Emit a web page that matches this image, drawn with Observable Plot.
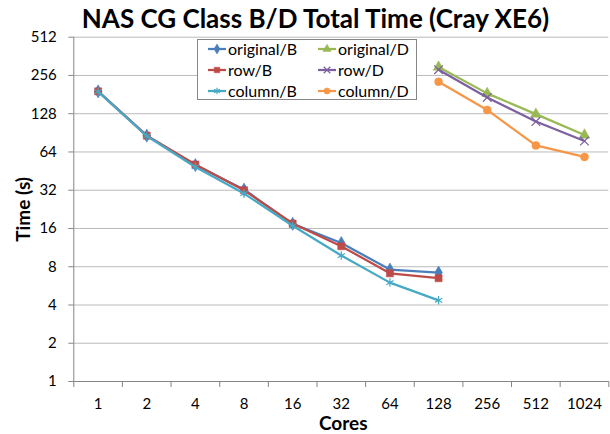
<!DOCTYPE html>
<html>
<head>
<meta charset="utf-8">
<script src="https://cdn.jsdelivr.net/npm/d3@7"></script>
<script src="https://cdn.jsdelivr.net/npm/@observablehq/plot@0.6"></script>
<style>
  html, body { margin: 0; padding: 0; background: #fff; }
  #wrap { position: relative; width: 610px; height: 434px; font-family: Lato, "Open Sans", sans-serif; }
  #title { position: absolute; left: 0; width: 631px; top: 2px; text-align: center; font: bold 26px Lato, sans-serif; color: #000; white-space: nowrap; }
  #legend { position: absolute; left: 197px; top: 39px; width: 220px; height: 61px; border: 1px solid #868686; background: #fff; box-sizing: border-box; overflow: hidden; }
  #legend .grid { position: relative; top: -2px; display: grid; grid-template-columns: 110px 108px; grid-template-rows: repeat(3, 21px); }
  #legend .item { display: flex; align-items: center; font: 16px Lato, sans-serif; color: #000; padding-left: 10px; white-space: nowrap; }
  #legend svg { margin-right: 2px; }
  #chart svg text { font-family: Lato, sans-serif; }
</style>
</head>
<body>
<div id="wrap">
  <div id="chart"></div>
  <div id="title">NAS CG Class B/D Total Time (Cray XE6)</div>
  <div id="legend"><div class="grid"></div></div>
</div>
<script>
const cores = ["1", "2", "4", "8", "16", "32", "64", "128", "256", "512", "1024"];
const yTicks = [1, 2, 4, 8, 16, 32, 64, 128, 256, 512];

const originalB = [192, 86, 50.5, 32.4, 17.4, 12.3, 7.6, 7.2, null, null, null];
const rowB      = [192, 86, 51, 32.0, 17.5, 11.6, 7.1, 6.5, null, null, null];
const columnB   = [191, 85.5, 48.8, 30.1, 16.8, 9.8, 6.0, 4.35, null, null, null];
const originalD = [null, null, null, null, null, null, null, 298, 185, 127, 87];
const rowD      = [null, null, null, null, null, null, null, 284, 172, 111, 78];
const columnD   = [null, null, null, null, null, null, null, 228, 137, 72, 58.5];

const seriesNames = ["original/B", "original/D", "row/B", "row/D", "column/B", "column/D"];
const seriesValues = [originalB, originalD, rowB, rowD, columnB, columnD];
const seriesColors = ["#4A7EBB", "#98B954", "#BE4B48", "#7D60A0", "#46AAC5", "#F79646"];
const seriesSymbols = ["diamond", "triangle", "square", "times", "asterisk", "circle"];
const filled = [true, true, true, false, false, true];
const drawOrder = [0, 2, 4, 1, 3, 5];

const rows = [];
seriesNames.forEach((name, s) => {
  seriesValues[s].forEach((v, i) => {
    if (v != null) rows.push({series: name, idx: i, value: v, s});
  });
});

const marks = [
  Plot.gridY(yTicks, {stroke: "#bcbcbc", strokeOpacity: 1, strokeWidth: 1}),
  Plot.axisY(yTicks, {tickSize: 5, tickPadding: 12, stroke: "#868686", fontSize: 15, tickFormat: d => String(d), label: null}),
  Plot.axisX(d3.range(-0.5, cores.length, 1), {tickSize: 6, stroke: "#868686", tickFormat: () => "", label: null}),
  Plot.axisX(d3.range(0, cores.length), {tickSize: 0, tickPadding: 17, fontSize: 15, tickFormat: i => cores[i], label: null}),
  Plot.ruleY([yTicks[0]], {stroke: "#868686", strokeWidth: 1}),
  Plot.ruleX([-0.5], {stroke: "#868686", strokeWidth: 1}),
  Plot.text(["Cores"], {frameAnchor: "bottom", dx: 2, dy: 42, fontSize: 19, fontWeight: "bold", lineAnchor: "middle"}),
  Plot.text(["Time (s)"], {frameAnchor: "left", dx: -50, rotate: -90, fontSize: 19, fontWeight: "bold", textAnchor: "middle"})
];
for (const s of drawOrder) {
  const data = rows.filter(r => r.s === s);
  marks.push(Plot.line(data, {x: "idx", y: "value", stroke: seriesColors[s], strokeWidth: 2.25}));
  marks.push(Plot.dot(data, {x: "idx", y: "value", symbol: seriesSymbols[s], r: 4,
    fill: filled[s] ? seriesColors[s] : "none", stroke: seriesColors[s], strokeWidth: filled[s] ? 0.5 : 1.2}));
}

const chart = Plot.plot({
  width: 610,
  height: 434,
  marginLeft: 73.3,
  marginRight: 1.7,
  marginTop: 36.7,
  marginBottom: 53,
  x: {type: "linear", domain: [-0.5, cores.length - 0.5], axis: null},
  y: {type: "log", base: 2, domain: [1, 512], axis: null},
  style: {background: "#fff", color: "#000"},
  marks
});
document.getElementById("chart").appendChild(chart);

// legend
const legend = d3.select("#legend .grid");
const symMap = {diamond: d3.symbolDiamond, triangle: d3.symbolTriangle, square: d3.symbolSquare,
                times: d3.symbolTimes, asterisk: d3.symbolAsterisk, circle: d3.symbolCircle};
seriesNames.forEach((name, s) => {
  const item = legend.append("div").attr("class", "item");
  const svg = item.append("svg").attr("width", 18).attr("height", 10);
  svg.append("line").attr("x1", 0).attr("x2", 18).attr("y1", 5).attr("y2", 5)
    .attr("stroke", seriesColors[s]).attr("stroke-width", 2.25);
  svg.append("path").attr("transform", "translate(9,5)")
    .attr("d", d3.symbol(symMap[seriesSymbols[s]], 30)())
    .attr("fill", filled[s] ? seriesColors[s] : "none")
    .attr("stroke", seriesColors[s]).attr("stroke-width", filled[s] ? 0.5 : 1.2);
  item.append("span").text(name);
});
</script>
</body>
</html>
